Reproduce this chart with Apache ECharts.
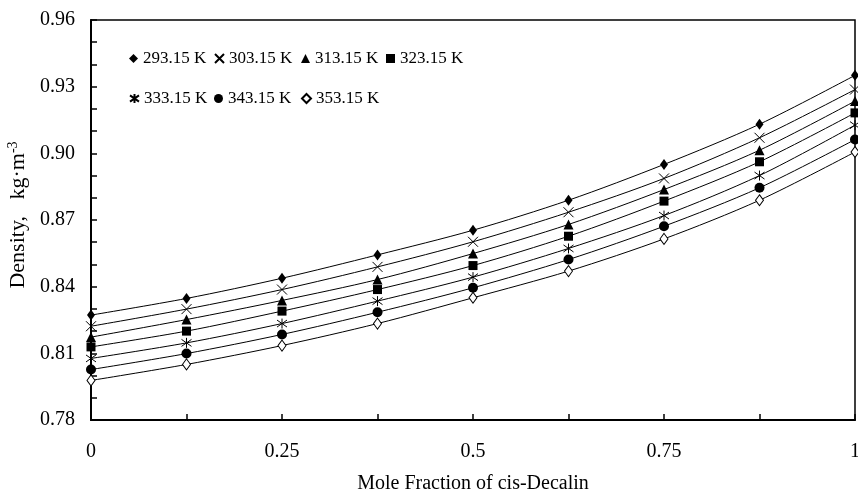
<!DOCTYPE html>
<html><head><meta charset="utf-8">
<script src="https://cdn.jsdelivr.net/npm/echarts@6/dist/echarts.min.js"></script>
<style>html,body{margin:0;padding:0;background:#fff;overflow:hidden}#c{width:858px;height:492px}</style>
</head><body><div id="c"></div>
<script>
// ---- data ----
const moleFraction = [0, 0.125, 0.25, 0.375, 0.5, 0.625, 0.75, 0.875, 1];
const seriesNames = ['293.15 K', '303.15 K', '313.15 K', '323.15 K', '333.15 K', '343.15 K', '353.15 K'];
const rho293 = [0.8272, 0.8347, 0.8438, 0.8543, 0.8654, 0.8789, 0.8950, 0.9131, 0.9351];
const rho303 = [0.8222, 0.8299, 0.8387, 0.8489, 0.8602, 0.8735, 0.8887, 0.9070, 0.9287];
const rho313 = [0.8173, 0.8252, 0.8338, 0.8432, 0.8549, 0.8680, 0.8837, 0.9014, 0.9235];
const rho323 = [0.8129, 0.8200, 0.8290, 0.8387, 0.8495, 0.8627, 0.8785, 0.8962, 0.9182];
const rho333 = [0.8077, 0.8147, 0.8234, 0.8335, 0.8443, 0.8572, 0.8720, 0.8900, 0.9127];
const rho343 = [0.8027, 0.8099, 0.8185, 0.8285, 0.8395, 0.8522, 0.8672, 0.8845, 0.9062];
const rho353 = [0.7978, 0.8050, 0.8135, 0.8234, 0.8350, 0.8470, 0.8615, 0.8789, 0.9006];
const xTickValues = [0, 0.25, 0.5, 0.75, 1];
const yTickValues = [0.78, 0.81, 0.84, 0.87, 0.90, 0.93, 0.96];
const xTitle = 'Mole Fraction of cis-Decalin';
const yTitle = 'Density,   kg·m{sup|-3}';

const allRho = [rho293, rho303, rho313, rho323, rho333, rho343, rho353];
const FONT = "'Liberation Serif','Times New Roman',serif";

const crossPath = 'path://M0,0L10,10M10,0L0,10';
const starPath = 'path://M5,0L5,10M0,1.5L10,8.5M0,8.5L10,1.5';
const markerStyles = [
  {symbol: 'diamond', symbolSize: [8, 11], itemStyle: {color: '#000'}},
  {symbol: crossPath, symbolSize: 10, itemStyle: {color: 'rgba(0,0,0,0)', borderColor: '#000', borderWidth: 1}},
  {symbol: 'triangle', symbolSize: 10, itemStyle: {color: '#000'}},
  {symbol: 'rect', symbolSize: 9, itemStyle: {color: '#000'}},
  {symbol: starPath, symbolSize: 10, itemStyle: {color: 'rgba(0,0,0,0)', borderColor: '#000', borderWidth: 1}},
  {symbol: 'circle', symbolSize: 10, itemStyle: {color: '#000'}},
  {symbol: 'diamond', symbolSize: [8, 11], itemStyle: {color: '#fff', borderColor: '#000', borderWidth: 1}}
];

const series = allRho.map((arr, i) => Object.assign({
  name: seriesNames[i],
  type: 'line',
  smooth: 0.3,
  clip: true,
  data: moleFraction.map((x, j) => [x, arr[j]]),
  lineStyle: {color: '#000', width: 1},
  emphasis: {disabled: true},
  z: 3
}, markerStyles[i]));

const legendPos = [
  [124, 45], [209, 45], [296, 45], [381, 45],
  [124, 85], [209, 85], [296, 85]
];
const legends = seriesNames.map((n, i) => ({
  data: [{name: n, icon: markerStyles[i].symbol}],
  left: legendPos[i][0], top: legendPos[i][1],
  itemWidth: 9, itemHeight: 9, itemGap: 0,
  selectedMode: false,
  textStyle: {fontFamily: FONT, fontSize: 17, color: '#000', padding: [0, 0, 0, 0]}
}));

const chart = echarts.init(document.getElementById('c'), null, {renderer: 'canvas'});
chart.setOption({
  animation: false,
  backgroundColor: '#fff',
  grid: {left: 91, right: 3, top: 20, bottom: 72, show: true, borderColor: '#000', borderWidth: 1.5,
    containLabel: false, outerBoundsMode: 'none'},
  legend: legends,
  xAxis: {
    type: 'value', min: 0, max: 1, interval: 0.25,
    name: xTitle, nameLocation: 'middle', nameGap: 54,
    nameTextStyle: {fontFamily: FONT, fontSize: 20, color: '#000'},
    axisLine: {show: true, lineStyle: {color: '#000', width: 2}},
    axisTick: {show: true, inside: true, length: 6, lineStyle: {color: '#000', width: 1.5}},
    minorTick: {show: true, splitNumber: 2, length: 6, lineStyle: {color: '#000', width: 1.5}},
    splitLine: {show: false},
    axisLabel: {fontFamily: FONT, fontSize: 20, color: '#000', margin: 22,
      formatter: v => xTickValues.includes(v) ? String(v) : ''}
  },
  yAxis: {
    type: 'value', min: 0.78, max: 0.96, interval: 0.03,
    name: yTitle, nameLocation: 'middle', nameGap: 55,
    nameTextStyle: {fontFamily: FONT, fontSize: 22, color: '#000', padding: [0, 0, 0, 10],
      rich: {sup: {fontFamily: FONT, fontSize: 14, color: '#000', verticalAlign: 'top', padding: [0, 0, 10, 0]}}},
    axisLine: {show: true, lineStyle: {color: '#000', width: 2}},
    axisTick: {show: true, inside: true, length: 6, lineStyle: {color: '#000', width: 1.5}},
    minorTick: {show: true, splitNumber: 3, length: 6, lineStyle: {color: '#000', width: 1.5}},
    splitLine: {show: false},
    axisLabel: {fontFamily: FONT, fontSize: 20, color: '#000', margin: 16,
      formatter: v => yTickValues.some(t => Math.abs(t - v) < 1e-9) ? v.toFixed(2) : ''}
  },
  series: series
});
</script></body></html>
